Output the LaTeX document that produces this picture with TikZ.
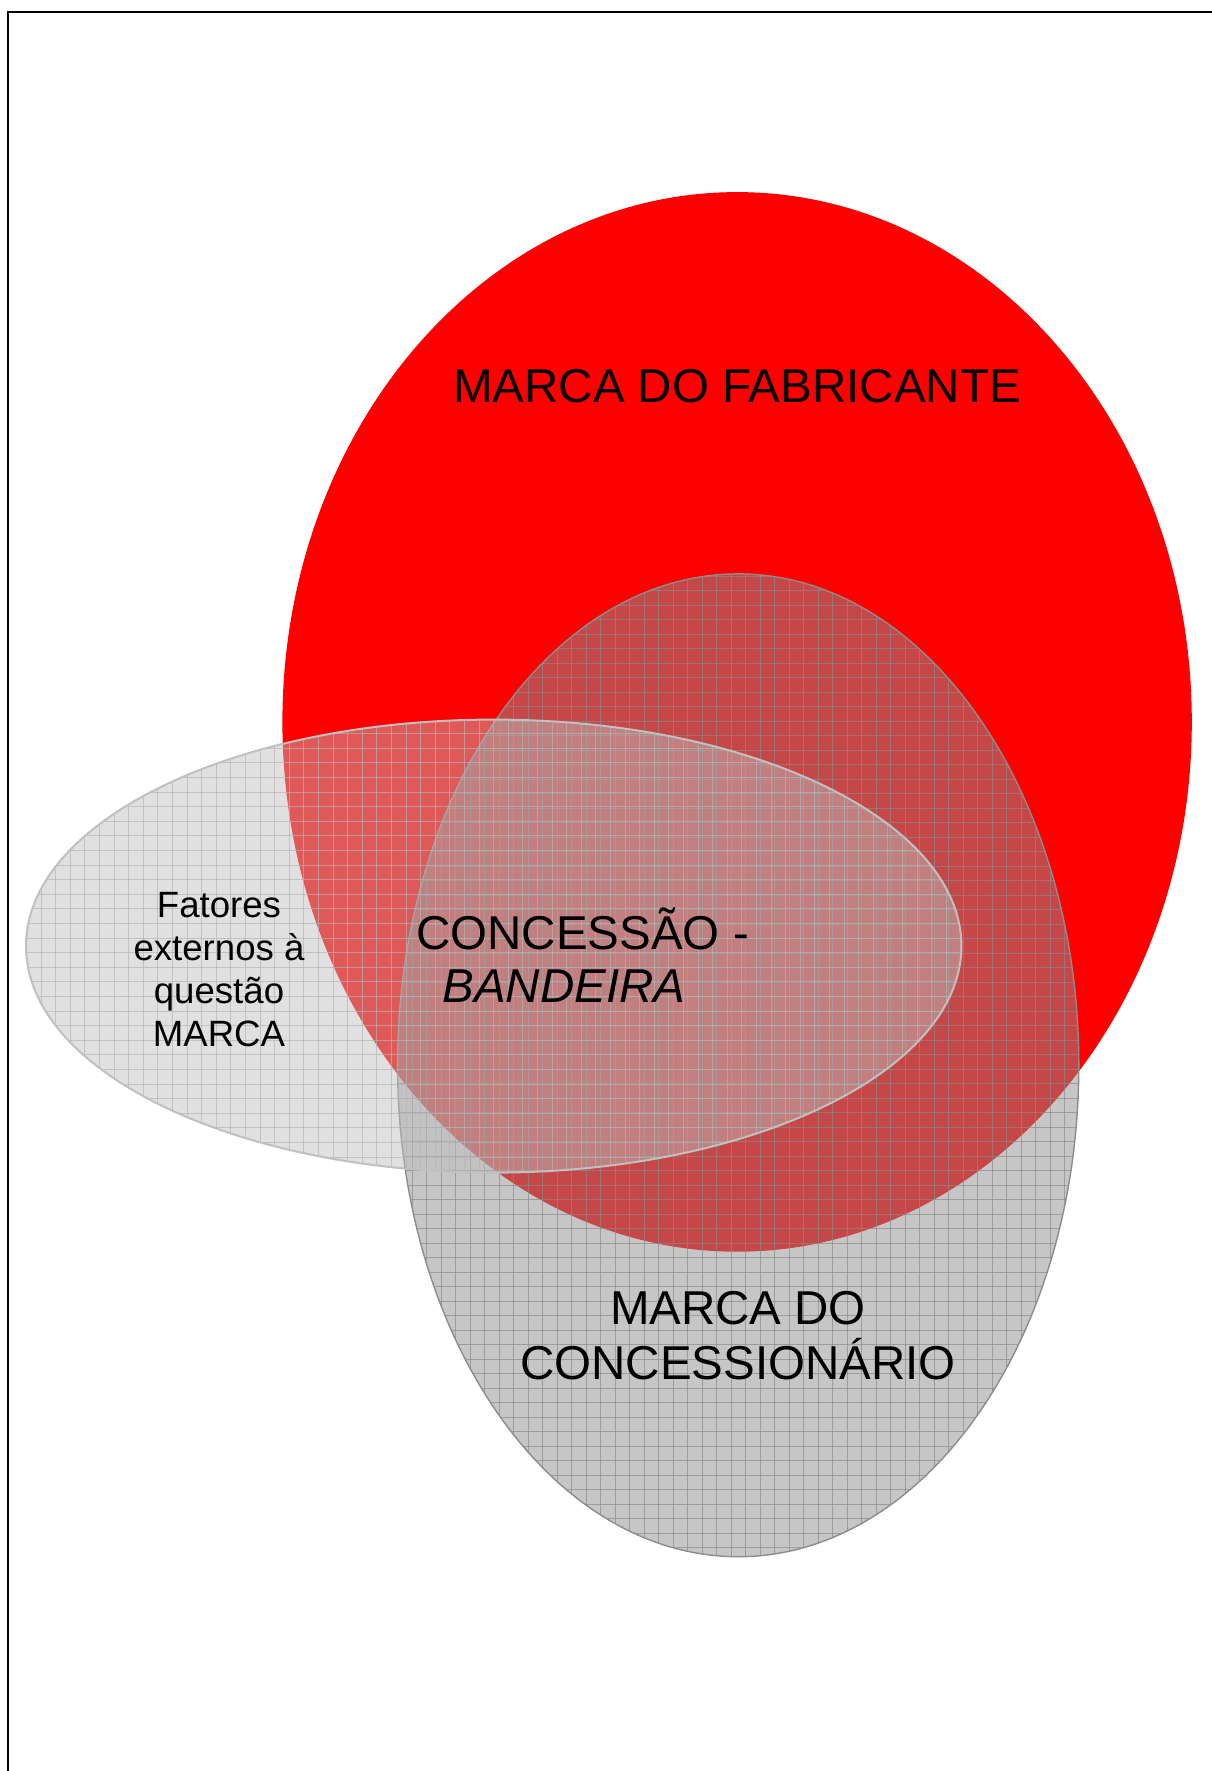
\documentclass[tikz,border=0pt]{standalone}
\usepackage{fontspec}
\setmainfont{Liberation Sans}
\definecolor{vfill}{RGB}{143,143,143}
\definecolor{vline}{RGB}{138,138,138}
\definecolor{vedge}{RGB}{140,140,140}
\definecolor{hfill}{RGB}{191,191,191}
\definecolor{hline}{RGB}{180,180,180}
\definecolor{hedge}{RGB}{192,192,192}
\definecolor{fabred}{RGB}{255,0,0}
\tikzset{
  bigtext/.style={font=\fontsize{23.75pt}{27.5pt}\selectfont, inner sep=0pt, text=black},
  smalltext/.style={font=\fontsize{18.3pt}{21.35pt}\selectfont, inner sep=0pt, text=black},
  vgrid/.style={draw=vline, line width=0.5pt, opacity=0.67},
  hgrid/.style={draw=hline, line width=0.5pt, opacity=0.67},
}
\begin{document}
\begin{tikzpicture}[x=0.5pt,y=-0.5pt]
\useasboundingbox (0,0) rectangle (1211,1771);
\fill[white] (0,0) rectangle (1211,1771);
% page frame
\draw[black, line width=1pt] (8,1790) -- (8,12) -- (1230,12);
% manufacturer brand (red)
\fill[fabred] (737.1,721.9) ellipse [x radius=227.35pt, y radius=264.9pt];
% dealer brand (vertical grey, grid)
\begin{scope}
  \clip (738.2,1065.3) ellipse [x radius=170.3pt, y radius=245.7pt];
  \fill[vfill, opacity=0.5] (390,565) rectangle (1090,1565);
  \foreach \i in {-3,...,47} \draw[vgrid] ({426.7+14.5*(\i-2)},565) -- ({426.7+14.5*(\i-2)},1565);
  \foreach \j in {-48,...,30} \draw[vgrid] (390,{1185+14.5*\j}) -- (1090,{1185+14.5*\j});
\end{scope}
\draw[vedge, line width=0.7pt] (738.2,1065.3) ellipse [x radius=170.3pt, y radius=245.7pt];
% external factors (horizontal grey, grid)
\begin{scope}
  \clip (493.7,946.1) ellipse [x radius=233.85pt, y radius=113.25pt];
  \fill[hfill, opacity=0.47] (20,712) rectangle (970,1180);
  \foreach \i in {-19,...,47} \draw[hgrid] ({289.3+14.6*\i},712) -- ({289.3+14.6*\i},1180);
  \foreach \j in {-3,...,30} \draw[hgrid] (20,{748.3+14.6*\j}) -- (970,{748.3+14.6*\j});
\end{scope}
\draw[hedge, line width=1pt] (493.7,946.1) ellipse [x radius=233.85pt, y radius=113.25pt];
% labels
\node[bigtext, anchor=base] (fab) at (737,402) {MARCA DO FABRICANTE};
\node[bigtext, anchor=base west] (conc) at (416,949) {CONCESSÃO -};
\node[bigtext, anchor=base west] (band) at (442,1002) {\itshape BANDEIRA};
\node[bigtext, anchor=base, align=center] (dealer) at (738,1379) {MARCA DO\\CONCESSIONÁRIO};
\node[smalltext, anchor=base, align=center] (fat) at (219,1046) {Fatores\\externos à\\questão\\MARCA};
\end{tikzpicture}
\end{document}
